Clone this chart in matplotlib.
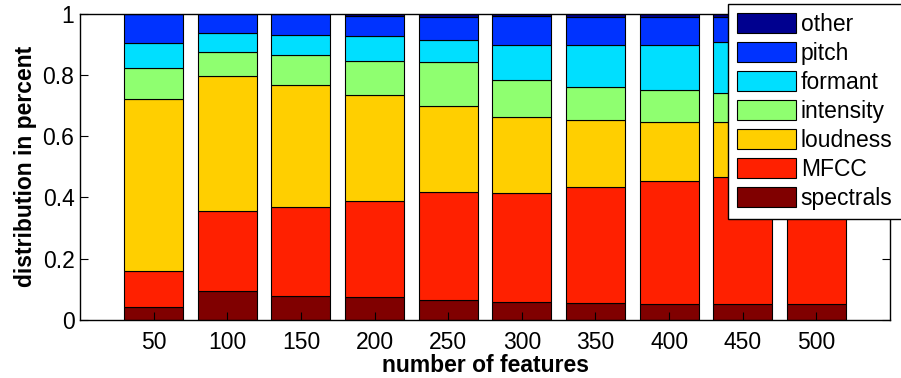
import numpy as np
import matplotlib.pyplot as plt

plt.rcParams['font.family'] = ['Liberation Sans', 'DejaVu Sans']

n_features = [50, 100, 150, 200, 250, 300, 350, 400, 450, 500]

categories = ['spectrals', 'MFCC', 'loudness', 'intensity', 'formant', 'pitch', 'other']

spectrals = [0.041, 0.094, 0.079, 0.075, 0.065, 0.060, 0.054, 0.051, 0.051, 0.051]
mfcc = [0.119, 0.261, 0.289, 0.313, 0.351, 0.354, 0.380, 0.401, 0.415, 0.429]
loudness = [0.562, 0.440, 0.398, 0.345, 0.283, 0.247, 0.217, 0.194, 0.180, 0.170]
intensity = [0.100, 0.080, 0.099, 0.112, 0.142, 0.123, 0.109, 0.106, 0.095, 0.090]
formant = [0.081, 0.061, 0.066, 0.081, 0.072, 0.114, 0.138, 0.146, 0.166, 0.170]
pitch = [0.097, 0.064, 0.066, 0.067, 0.074, 0.093, 0.091, 0.091, 0.083, 0.080]
other = [0.000, 0.000, 0.003, 0.007, 0.013, 0.009, 0.011, 0.011, 0.010, 0.010]

series = [spectrals, mfcc, loudness, intensity, formant, pitch, other]
colors = ['#800000', '#ff2000', '#ffcf00', '#8fff70', '#00dfff', '#0033ff', '#00008f']

fs = 16.5

fig = plt.figure(figsize=(9.01, 3.78), dpi=100)
ax = fig.add_axes([80 / 901, 58 / 378, 810 / 901, 306.5 / 378])

bottom = np.zeros(len(n_features))
handles = []
for name, vals, col in zip(categories, series, colors):
    vals = np.array(vals)
    b = ax.bar(n_features, vals, width=40, bottom=bottom, color=col,
               edgecolor='black', linewidth=0.8, label=name)
    handles.append(b)
    bottom += vals

ax.set_xlim(0, 550)
ax.set_ylim(0, 1)
ax.set_xticks(n_features)
ax.set_yticks([0, 0.2, 0.4, 0.6, 0.8, 1])
ax.set_yticklabels(['0', '0.2', '0.4', '0.6', '0.8', '1'])
ax.tick_params(axis='both', direction='in', length=5.5, width=0.8,
               labelsize=fs, right=True)
ax.tick_params(axis='x', pad=8)
ax.tick_params(axis='y', pad=4)
for sp in ax.spines.values():
    sp.set_linewidth(1.0)

ax.set_xlabel('number of features', fontsize=fs, fontweight='bold', labelpad=0)
ax.set_ylabel('distribution in percent', fontsize=fs, fontweight='bold', labelpad=4)

leg = ax.legend(handles[::-1], categories[::-1], loc='upper left',
                bbox_to_anchor=(0.8, 1.031), fontsize=fs, frameon=True,
                fancybox=False, edgecolor='black', framealpha=1,
                handlelength=2.55, handleheight=0.95, labelspacing=0.26,
                handletextpad=0.22, borderpad=0.4, borderaxespad=0)
leg.get_frame().set_linewidth(1.0)

fig.savefig('out.png', dpi=100)
